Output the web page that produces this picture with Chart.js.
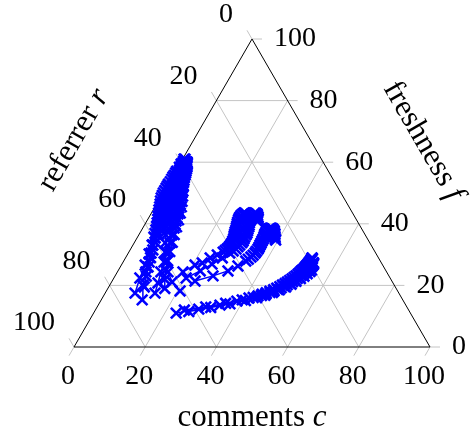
<!DOCTYPE html>
<html>
<head>
<meta charset="utf-8">
<script src="https://cdn.jsdelivr.net/npm/chart.js@4/dist/chart.umd.min.js"></script>
<style>
  html, body { margin: 0; padding: 0; background: #ffffff; }
  canvas { display: block; }
</style>
</head>
<body>
<canvas id="chart" width="472" height="434"></canvas>
<script>
// Ternary axes: comments c (bottom), referrer r (left), freshness f (right); c + r + f = 100
const tickValues = [0, 20, 40, 60, 80, 100];
const gridValues = [20, 40, 60, 80];

// Each run stores comments (c) and freshness (f); referrer is r = 100 - c - f
const runA1_c = [23.2, 28.9, 34.2, 38.3, 41.2, 43.4, 44.3, 45.2, 46.0, 46.8, 47.4, 48.0, 48.5, 49.0, 49.4, 49.8, 50.2, 50.5, 50.8, 51.1, 51.3, 51.5, 51.7, 51.9, 52.0, 52.1, 52.2, 52.3, 52.4, 52.4, 52.5, 52.5, 52.5, 52.6, 52.6, 52.5, 52.4];
const runA1_f = [11.0, 12.3, 13.6, 14.9, 15.9, 16.6, 17.1, 17.6, 18.1, 18.6, 19.1, 19.6, 20.1, 20.6, 21.1, 21.6, 22.1, 22.6, 23.1, 23.6, 24.1, 24.6, 25.0, 25.4, 25.8, 26.2, 26.6, 27.0, 27.3, 27.6, 27.9, 28.1, 28.3, 28.5, 28.7, 28.8, 28.9];

const runA2_c = [25.0, 30.5, 35.5, 39.6, 42.3, 44.3, 45.3, 46.2, 47.1, 47.9, 48.6, 49.2, 49.8, 50.3, 50.8, 51.2, 51.6, 51.9, 52.2, 52.5, 52.7, 52.9, 53.1, 53.3, 53.4, 53.5, 53.6, 53.7, 53.7, 53.8, 53.8, 53.7, 53.6, 53.5];
const runA2_f = [12.0, 13.0, 14.2, 15.3, 16.1, 16.7, 17.2, 17.7, 18.2, 18.7, 19.2, 19.7, 20.2, 20.7, 21.2, 21.7, 22.2, 22.7, 23.2, 23.6, 24.0, 24.4, 24.8, 25.2, 25.5, 25.8, 26.1, 26.3, 26.5, 26.7, 26.9, 27.1, 27.3, 27.4];

const runA3_c = [26.5, 32.0, 36.8, 40.6, 43.3, 45.2, 46.9, 48.4, 49.7, 50.8, 51.7, 52.5, 53.1, 53.6, 54.0, 54.2];
const runA3_f = [11.5, 12.8, 14.0, 15.1, 16.0, 16.8, 17.7, 18.6, 19.5, 20.4, 21.3, 22.2, 23.0, 23.8, 24.5, 25.0];

const runB1_c = [18.4, 20.7, 22.4, 23.8, 25.3, 26.5, 26.8, 27.1, 27.3, 27.4, 27.5, 27.5, 27.4, 27.3, 27.2, 27.0, 26.8, 26.6, 26.5, 26.3, 26.1, 25.9, 25.7, 25.6, 25.5, 25.5, 25.6, 25.8, 26.0, 26.3, 26.7, 27.0];
const runB1_f = [24.4, 26.6, 27.3, 28.9, 29.9, 30.8, 31.3, 31.8, 32.3, 32.8, 33.3, 33.8, 34.4, 35.1, 35.6, 36.0, 36.6, 37.3, 37.9, 38.6, 39.2, 39.9, 40.5, 41.2, 41.7, 42.2, 42.7, 43.2, 43.5, 43.5, 43.2, 42.8];

const runB2_c = [20.3, 23.1, 25.3, 27.2, 28.5, 29.1, 29.6, 29.8, 30.0, 30.2, 30.3, 30.2, 30.1, 30.1, 30.1, 29.9, 29.7, 29.6, 29.4, 29.1, 28.9, 28.8, 28.8, 28.9, 28.9, 29.0, 29.4, 29.8, 30.2, 30.6, 30.9, 31.1, 31.2];
const runB2_f = [22.4, 24.7, 26.9, 28.9, 30.5, 31.2, 31.8, 32.5, 33.1, 33.8, 34.4, 35.1, 35.7, 36.4, 37.0, 37.7, 38.3, 39.0, 39.6, 40.3, 40.9, 41.4, 41.9, 42.4, 42.9, 43.5, 43.4, 43.2, 42.7, 42.2, 41.7, 41.2, 40.7];

const runB3_c = [23.3, 27.5, 30.9, 32.9, 34.3, 34.7, 35.1, 35.4, 35.6, 35.7, 35.8, 35.8, 35.7, 35.7, 35.6, 35.6, 35.5, 35.4, 35.3, 35.3, 35.4, 35.5, 35.6, 35.8, 36.0, 36.3, 36.7, 37.0, 37.4, 37.7, 38.1, 38.3, 38.6, 38.9, 39.3];
const runB3_f = [21.4, 23.1, 24.7, 26.3, 27.9, 28.5, 29.2, 29.8, 30.5, 31.1, 31.8, 32.4, 33.1, 33.7, 34.4, 35.0, 35.7, 36.2, 36.7, 37.2, 37.7, 38.0, 38.3, 38.5, 38.6, 38.5, 38.3, 38.0, 37.7, 37.2, 36.7, 36.2, 35.7, 35.2, 34.7];

const runC1_c = [11.5, 9.3, 8.0, 7.3, 6.4, 5.6, 5.1, 4.5, 4.2, 3.9, 3.7, 3.5, 3.3, 3.1, 2.9, 2.7, 2.5, 2.3, 2.1, 2.0, 1.8, 1.7, 1.6, 1.5, 1.4, 1.3, 1.2, 1.2, 1.1, 1.0, 0.9, 0.8, 0.8, 0.7, 0.7, 0.7];
const runC1_f = [15.3, 20.1, 24.4, 27.6, 30.5, 33.1, 35.4, 37.7, 38.8, 39.9, 40.9, 41.9, 42.9, 43.8, 44.8, 45.8, 46.8, 47.7, 48.6, 49.4, 50.2, 51.0, 51.8, 52.6, 53.4, 54.2, 54.9, 55.5, 56.2, 56.8, 57.5, 58.1, 58.6, 59.1, 60.1, 61.0];

const runC2_c = [14.0, 13.2, 12.2, 11.5, 10.7, 10.1, 9.3, 8.8, 8.5, 8.2, 7.9, 7.6, 7.2, 6.9, 6.5, 6.2, 5.9, 5.6, 5.2, 4.8, 4.5, 4.3, 4.0, 3.8, 3.5, 3.3, 3.1, 2.9, 2.7, 2.5, 2.3, 2.1, 1.9, 1.7];
const runC2_f = [17.5, 20.8, 24.4, 27.6, 30.8, 33.8, 36.4, 38.6, 39.8, 40.9, 42.0, 43.2, 44.2, 45.1, 46.1, 47.1, 48.0, 49.0, 50.0, 51.0, 51.8, 52.6, 53.4, 54.2, 55.0, 55.8, 56.5, 57.1, 57.8, 58.4, 58.9, 59.4, 59.8, 60.1];

const runC3_c = [8.4, 7.3, 6.7, 6.0, 5.4, 4.6, 4.3, 4.0, 3.6, 3.2, 2.8, 2.3, 2.0, 1.6, 1.3, 1.0, 0.6, 0.3, 0.2, 0.1, 0.1, 0.1, 0.1, 0.1, 0.2, 0.2, 0.2, 0.3, 0.3, 0.3, 0.4, 0.4, 0.4];
const runC3_f = [17.5, 22.4, 26.6, 30.2, 33.1, 35.7, 36.9, 38.0, 39.2, 40.3, 41.4, 42.5, 43.5, 44.5, 45.5, 46.4, 47.4, 48.4, 49.2, 50.0, 50.8, 51.6, 52.3, 52.9, 53.7, 54.5, 55.2, 55.8, 56.5, 57.1, 58.4, 59.4, 61.0];

const runC4_c = [20.7, 17.0, 14.2, 12.1, 10.2, 8.7, 7.6, 7.1, 6.6, 6.2, 5.8, 5.3, 4.9, 4.5, 4.2, 3.8, 3.5, 3.3, 3.1, 2.8, 2.6, 2.5, 2.4, 2.1, 1.8, 1.7, 1.7, 1.5, 1.4, 1.2, 1.0, 0.9, 0.8, 0.8, 0.7];
const runC4_f = [18.2, 21.1, 24.4, 27.6, 30.8, 33.8, 36.4, 37.7, 39.0, 40.1, 41.2, 42.3, 43.5, 44.5, 45.5, 46.5, 47.4, 48.4, 49.4, 50.2, 51.0, 51.8, 52.6, 53.4, 54.2, 54.8, 55.5, 56.2, 56.8, 57.5, 58.1, 58.6, 59.1, 59.7, 60.4];

const runC5_c = [10.0, 8.8, 7.8, 7.0, 6.4, 5.9, 5.4, 5.0, 4.6, 4.2, 3.8, 3.4, 3.0, 2.6, 2.2, 1.9, 1.6, 1.4, 1.2, 1.0, 0.9, 0.8];
const runC5_f = [19.5, 23.0, 26.0, 29.0, 31.5, 34.0, 36.5, 39.0, 41.0, 43.0, 45.0, 47.0, 48.8, 50.5, 52.0, 53.5, 55.0, 56.3, 57.5, 58.6, 59.6, 60.5];

const runC6_c = [16.0, 14.5, 13.3, 12.3, 11.4, 10.6, 9.9, 9.3, 8.7, 8.1, 7.4, 6.7, 6.0, 5.3, 4.6, 3.9, 3.3, 2.7, 2.2, 1.8, 1.5, 1.2];
const runC6_f = [19.0, 22.0, 25.0, 28.0, 31.0, 34.0, 36.5, 39.0, 41.3, 43.5, 45.5, 47.3, 49.0, 50.6, 52.2, 53.7, 55.1, 56.4, 57.6, 58.6, 59.5, 60.2];

const runs = [
  [runA1_c, runA1_f], [runA2_c, runA2_f], [runA3_c, runA3_f],
  [runB1_c, runB1_f], [runB2_c, runB2_f], [runB3_c, runB3_f],
  [runC1_c, runC1_f], [runC2_c, runC2_f], [runC3_c, runC3_f],
  [runC4_c, runC4_f], [runC5_c, runC5_f], [runC6_c, runC6_f]
];

// ternary (c, f) -> cartesian: x = c + f/2, y = f (y axis scaled so the triangle is equilateral)
const toXY = (c, f) => ({ x: c + f / 2, y: f });

const BLUE = '#0000ff';
const GRID = '#c4c4c4';
const FONT = '"Liberation Serif", "Times New Roman", serif';

const datasets = runs.map(([cs, fs]) => ({
  data: cs.map((c, i) => toXY(c, fs[i])),
  showLine: true,
  borderColor: BLUE,
  backgroundColor: BLUE,
  borderWidth: 1.5,
  pointStyle: 'crossRot',
  pointRadius: 7.5,
  pointBorderWidth: 2.6,
  pointBorderColor: BLUE,
  pointHoverRadius: 7.5,
  tension: 0,
  clip: false
}));

const ternaryAxes = {
  id: 'ternaryAxes',
  beforeDatasetsDraw(chart) {
    const { ctx, scales: { x: xs, y: ys } } = chart;
    const P = (c, f) => ({ x: xs.getPixelForValue(c + f / 2), y: ys.getPixelForValue(f) });
    const line = (a, b) => { ctx.beginPath(); ctx.moveTo(a.x, a.y); ctx.lineTo(b.x, b.y); ctx.stroke(); };

    ctx.save();
    // grid
    ctx.strokeStyle = GRID;
    ctx.lineWidth = 1;
    gridValues.forEach(v => {
      line(P(0, v), P(100 - v, v));        // constant freshness
      line(P(v, 0), P(v, 100 - v));        // constant comments
      line(P(100 - v, 0), P(0, 100 - v));  // constant referrer
    });

    // ticks
    const L = 10;
    tickValues.forEach(v => {
      const b = P(v, 0);
      line(b, { x: b.x - 0.5 * L, y: b.y + 0.866 * L });
      const l = P(0, 100 - v);
      line(l, { x: l.x - 0.5 * L, y: l.y - 0.866 * L });
      const r = P(100 - v, v);
      line(r, { x: r.x + L, y: r.y });
    });

    // triangle
    ctx.strokeStyle = '#000000';
    ctx.lineWidth = 1;
    ctx.beginPath();
    const A = P(0, 0), B = P(100, 0), C = P(0, 100);
    ctx.moveTo(A.x, A.y); ctx.lineTo(B.x, B.y); ctx.lineTo(C.x, C.y); ctx.closePath();
    ctx.stroke();

    // tick labels
    ctx.fillStyle = '#000000';
    ctx.font = '28px ' + FONT;
    ctx.textBaseline = 'middle';
    tickValues.forEach(v => {
      const b = P(v, 0);
      ctx.textAlign = 'center';
      ctx.fillText(String(v), b.x - 6, b.y + 30);
      const l = P(0, 100 - v);
      ctx.textAlign = 'right';
      ctx.fillText(String(v), l.x - 19, l.y - 24);
      const r = P(100 - v, v);
      ctx.textAlign = 'left';
      ctx.fillText(String(v), r.x + 22, r.y);
    });

    // axis titles: word + italic symbol
    const title = (word, sym, cx, cy, angle, baseline) => {
      ctx.save();
      ctx.translate(cx, cy);
      ctx.rotate(angle);
      ctx.textBaseline = baseline;
      ctx.textAlign = 'left';
      ctx.font = '31px ' + FONT;
      const w1 = ctx.measureText(word + ' ').width;
      ctx.font = 'italic 31px ' + FONT;
      const w2 = ctx.measureText(sym).width;
      const x0 = -(w1 + w2) / 2;
      ctx.font = '31px ' + FONT;
      ctx.fillText(word + ' ', x0, 0);
      ctx.font = 'italic 31px ' + FONT;
      ctx.fillText(sym, x0 + w1, 0);
      ctx.restore();
    };
    title('comments', 'c', 252, 426, 0, 'alphabetic');
    title('referrer', 'r', 74, 140, -Math.PI / 3, 'middle');
    title('freshness', 'f', 423, 141, Math.PI / 3, 'middle');
    ctx.restore();
  }
};

new Chart(document.getElementById('chart'), {
  type: 'scatter',
  data: { datasets },
  options: {
    responsive: false,
    devicePixelRatio: 1,
    animation: false,
    layout: { padding: { left: 74, right: 42, top: 39, bottom: 87 } },
    scales: {
      x: { type: 'linear', min: 0, max: 100, display: false },
      y: { type: 'linear', min: 0, max: 100, display: false }
    },
    plugins: { legend: { display: false }, tooltip: { enabled: false } }
  },
  plugins: [ternaryAxes]
});
</script>
</body>
</html>
